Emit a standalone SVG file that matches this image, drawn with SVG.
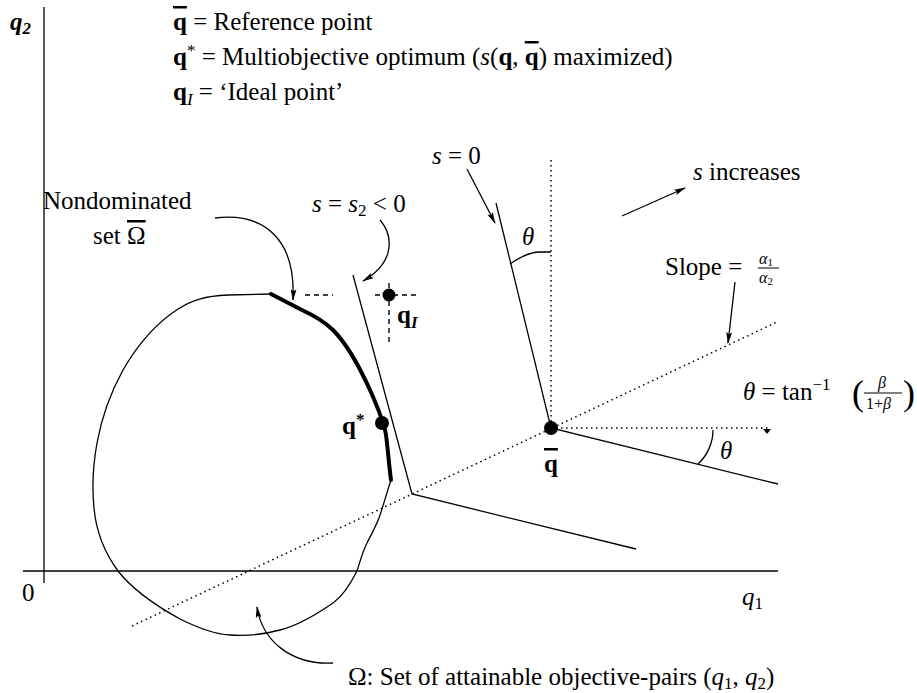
<svg xmlns="http://www.w3.org/2000/svg" width="917" height="693" viewBox="0 0 917 693">
<style>
.t{font-family:"Liberation Serif","Times New Roman",serif;font-size:25px;fill:#000}
.s{font-size:17px}
.f{font-size:16px}
.b{font-weight:bold}
.i{font-style:italic}
.ov{text-decoration:overline}
.ln{stroke:#000;stroke-width:1.3;fill:none}
.thick{stroke:#000;stroke-width:4;fill:none;stroke-linecap:round;stroke-linejoin:round}
.dt{stroke:#000;stroke-width:1.5;stroke-dasharray:1.5 3.5;fill:none}
.ds{stroke:#000;stroke-width:1.4;stroke-dasharray:5 4;fill:none}
.ar{stroke:#000;stroke-width:1.3;fill:none;marker-end:url(#ah)}
</style>
<defs>
<marker id="ah" viewBox="0 0 12 6" refX="11" refY="3" markerWidth="12" markerHeight="6" markerUnits="userSpaceOnUse" orient="auto"><path d="M0,0 L12,3 L0,6 L2.5,3 z" fill="#000"/></marker>
</defs>

<g id="axes">
<line class="ln" x1="44" y1="7" x2="44" y2="583"/>
<line x1="23" y1="571" x2="778" y2="571" stroke="#000" stroke-width="1.6"/>
<text class="t b i" x="10" y="30">q<tspan class="s" dy="4">2</tspan></text>
<text class="t" x="22" y="601">0</text>
<text class="t i" x="742" y="605">q<tspan class="s" dy="4" font-style="normal">1</tspan></text>
</g>

<g id="legend">
<text class="t" x="173" y="30"><tspan class="b ov">q</tspan> = Reference point</text>
<text class="t" x="173" y="65"><tspan class="b">q</tspan><tspan class="s" dy="-9">*</tspan><tspan dy="9"> = Multiobjective optimum (</tspan><tspan class="i">s</tspan>(<tspan class="b">q</tspan>, <tspan class="b ov">q</tspan>) maximized)</text>
<text class="t" x="173" y="100"><tspan class="b">q</tspan><tspan class="s i" dy="5">I</tspan><tspan dy="-5"> = ‘Ideal point’</tspan></text>
</g>

<g id="region">
<path class="ln" d="M391,480 C386,495 383,507 379,518 C375,528 371,535 367,543 C362,553 360,562 357,571 C350,585 343,596 333,603 C320,612 300,625 280,630 C262,635 245,636 230,635 C212,634 196,627 180,619 C160,608 133,590 118,571 C104,552 96,530 94,508 C92,488 93,465 97,443 C102,415 111,392 123,370 C138,344 158,322 178,309 C192,300 205,296 228,295 L271,294"/>
<path class="thick" d="M271,294 L300,309 C315,316 325,322 333,330 C348,345 360,368 370,390 C378,408 384,422 386,435 C388,450 389,465 391,480"/>
<circle id="qstar" cx="382" cy="423" r="7"/>
<text class="t b" x="342" y="434">q<tspan class="s" dy="-9">*</tspan></text>
</g>

<g id="ideal">
<line class="ds" x1="305" y1="295" x2="333" y2="295"/>
<line class="ds" x1="375" y1="295" x2="416" y2="295"/>
<line class="ds" x1="389" y1="283" x2="389" y2="344"/>
<circle cx="389" cy="295" r="6.5"/>
<text class="t b" x="397" y="323">q<tspan class="s i" dy="5">I</tspan></text>
</g>

<g id="contours">
<polyline class="ln" points="353,275 412,494 636,549"/>
<polyline class="ln" points="496,203 551,428 778,484"/>
<line class="dt" x1="551" y1="160" x2="551" y2="428"/>
<line class="dt" x1="132" y1="626" x2="777" y2="322"/>
<line class="dt" x1="551" y1="428" x2="768" y2="428"/>
<polygon points="763,429 771,429 767,434" fill="#000"/>
<path class="ln" d="M510,264 C520,257 530,252 540,252 L551,252"/>
<path class="ln" d="M698,464 C708,455 713,442 713,430"/>
<circle id="qbar" cx="551" cy="428" r="7"/>
<text class="t b ov" x="544" y="472">q</text>
<text class="t i" x="522" y="245">θ</text>
<text class="t i" x="720" y="459">θ</text>
</g>

<g id="labels">
<text class="t" x="432" y="164"><tspan class="i">s</tspan> = 0</text>
<text class="t" x="693" y="180"><tspan class="i">s</tspan> increases</text>
<text class="t" x="43" y="209">Nondominated</text>
<text class="t" x="93" y="244">set <tspan class="ov">Ω</tspan></text>
<text class="t" x="312" y="212"><tspan class="i">s</tspan> = <tspan class="i">s</tspan><tspan class="s" dy="4">2</tspan><tspan dy="-4"> &lt; 0</tspan></text>
<text class="t" x="665" y="275">Slope =</text>
<text class="t i f" x="759" y="264">α<tspan font-size="11" dy="2" font-style="normal">1</tspan></text>
<line x1="758" y1="268" x2="779" y2="268" stroke="#000" stroke-width="1"/>
<text class="t i f" x="759" y="283">α<tspan font-size="11" dy="2" font-style="normal">2</tspan></text>
<text class="t" x="743" y="400"><tspan class="i">θ</tspan> = tan<tspan class="s" dy="-10">−1</tspan></text>
<text class="t" x="852" y="405" style="font-size:36px">(</text>
<text class="t" x="903" y="405" style="font-size:36px">)</text>
<text class="t i f" x="878" y="388">β</text>
<line x1="864" y1="393" x2="902" y2="393" stroke="#000" stroke-width="1"/>
<text class="t f" x="866" y="409">1+<tspan class="i">β</tspan></text>
<text class="t" x="348" y="685">Ω: Set of attainable objective-pairs (<tspan class="i">q</tspan><tspan class="s" dy="4">1</tspan><tspan dy="-4">, </tspan><tspan class="i">q</tspan><tspan class="s" dy="4">2</tspan><tspan dy="-4">)</tspan></text>
</g>

<g id="connectors">
<path class="ar" d="M622,216 L685,188"/>
<path class="ar" d="M467,169 L495,223"/>
<path class="ar" d="M380,220 C393,235 396,262 363,281"/>
<path class="ar" d="M215,218 C265,212 296,240 293,300"/>
<path class="ar" d="M735,282 L728,343"/>
<path class="ar" d="M333,663 C290,665 262,640 257,607"/>
</g>
</svg>
